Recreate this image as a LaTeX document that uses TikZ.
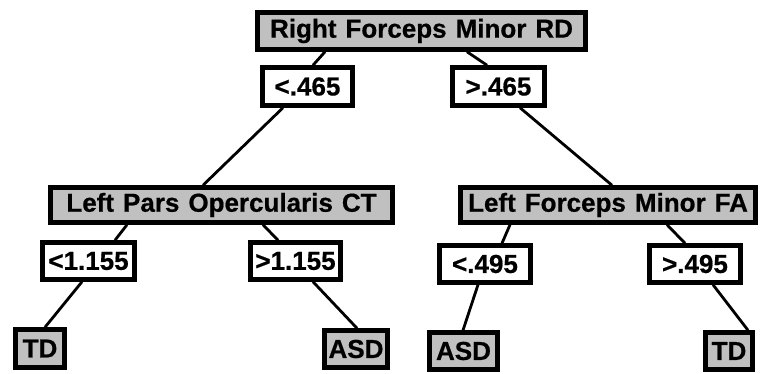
\documentclass[tikz,border=0pt]{standalone}
\usepackage{fontspec}
\setmainfont{Liberation Sans}[BoldFeatures={FakeBold=0.6}]
\usetikzlibrary{backgrounds}
\definecolor{boxgray}{RGB}{192,192,192}
\newcommand{\wsp}{\hspace{9pt}}
\tikzset{
  box/.style={draw=black, line width=4.5pt, rectangle, inner sep=0pt,
    font=\fontsize{26}{28}\selectfont\bfseries, align=center},
  feat/.style={box, fill=boxgray},
  thr/.style={box, fill=white},
  leaf/.style={box, fill=boxgray},
  edge/.style={draw=black, line width=2.8pt}
}
\begin{document}
\begin{tikzpicture}[x=1pt,y=-1pt]
\useasboundingbox (0,0) rectangle (760,374);
\node[feat, minimum width=328pt, minimum height=37pt] (root) at (421.5,31) {Right\wsp Forceps\wsp Minor\wsp RD};
\node[thr, minimum width=90pt, minimum height=38pt] (lt465) at (307.5,86.5) {<.465};
\node[thr, minimum width=92pt, minimum height=38pt] (gt465) at (498.5,86.5) {>.465};
\node[feat, minimum width=342pt, minimum height=35pt] (lpo) at (221.5,205) {Left\wsp Pars\wsp Opercularis\wsp CT};
\node[feat, minimum width=295pt, minimum height=35pt] (lfm) at (608,205) {Left\wsp Forceps\wsp Minor\wsp FA};
\node[thr, minimum width=92pt, minimum height=37pt] (lt1155) at (88.5,261) {<1.155};
\node[thr, minimum width=90pt, minimum height=37pt] (gt1155) at (295.5,261) {>1.155};
\node[thr, minimum width=91pt, minimum height=37pt] (lt495) at (485,264) {<.495};
\node[thr, minimum width=91pt, minimum height=37pt] (gt495) at (695,264) {>.495};
\node[leaf, minimum width=49pt, minimum height=38pt] (tdl) at (40,348.5) {TD};
\node[leaf, minimum width=63pt, minimum height=37pt] (asdl) at (356,349) {ASD};
\node[leaf, minimum width=68pt, minimum height=37pt] (asdr) at (463.5,351) {ASD};
\node[leaf, minimum width=47pt, minimum height=37pt] (tdr) at (729,351) {TD};
\begin{scope}[on background layer]
\draw[edge] ([xshift=-96.5pt]root.south) -- ([xshift=5.5pt]lt465.north);
\draw[edge] ([xshift=45.5pt]root.south) -- ([xshift=-11.5pt]gt465.north);
\draw[edge] ([xshift=-24.5pt]lt465.south) -- ([xshift=-18.5pt]lpo.north);
\draw[edge] ([xshift=21.5pt]gt465.south) -- ([xshift=4pt]lfm.north);
\draw[edge] ([xshift=-94.5pt]lpo.south) -- ([xshift=26.5pt]lt1155.north);
\draw[edge] ([xshift=41.5pt]lpo.south) -- ([xshift=-17.5pt]gt1155.north);
\draw[edge] ([xshift=-6.5pt]lt1155.south) -- ([xshift=5pt]tdl.north);
\draw[edge] ([xshift=17.5pt]gt1155.south) -- ([xshift=1pt]asdl.north);
\draw[edge] ([xshift=-98pt]lfm.south) -- ([xshift=17pt]lt495.north);
\draw[edge] ([xshift=59pt]lfm.south) -- ([xshift=-10pt]gt495.north);
\draw[edge] ([xshift=-7pt]lt495.south) -- ([xshift=-0.5pt]asdr.north);
\draw[edge] ([xshift=18pt]gt495.south) -- ([xshift=19pt]tdr.north);
\end{scope}
\end{tikzpicture}
\end{document}
